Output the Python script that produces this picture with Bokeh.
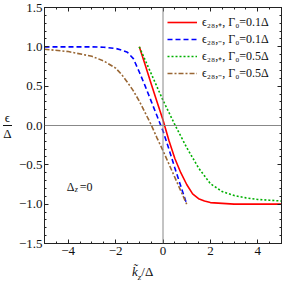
from bokeh.plotting import figure
from bokeh.layouts import column, row
from bokeh.models import (Span, Label, Legend, LegendItem, LinearAxis, Div,
                          SingleIntervalTicker, CustomJSTickFormatter)
from bokeh.embed import file_html
from bokeh.resources import INLINE

FONT = "Liberation Serif"

# ---- data ----
red_k = [-1.0, -0.75, -0.5, -0.25, 0.0, 0.25, 0.5, 0.75, 1.0, 1.25, 1.5, 1.75, 2.0, 2.5, 3.0, 4.0, 5.0]
red_e = [1.0, 0.77, 0.53, 0.30, 0.07, -0.19, -0.42, -0.60, -0.75, -0.87, -0.93, -0.96, -0.98, -0.99, -1.0, -1.0, -1.0]

blue_k = [-5.0, -4.0, -3.0, -2.5, -2.0, -1.75, -1.5, -1.25, -1.0, -0.75, -0.5, -0.25, 0.0, 0.25, 0.5, 0.75, 1.0]
blue_e = [1.0, 1.0, 1.0, 0.995, 0.98, 0.96, 0.93, 0.85, 0.68, 0.50, 0.31, 0.12, -0.07, -0.30, -0.54, -0.77, -1.0]

green_k = [-1.0, -0.5, 0.0, 0.5, 1.0, 1.5, 2.0, 2.5, 3.0, 3.5, 4.0, 4.5, 5.0]
green_e = [1.0, 0.66, 0.32, 0.01, -0.28, -0.54, -0.74, -0.84, -0.89, -0.92, -0.94, -0.95, -0.96]

brown_k = [-5.0, -4.0, -3.0, -2.5, -2.0, -1.75, -1.5, -1.25, -1.0, -0.75, -0.5, -0.25, 0.0, 0.25, 0.5, 0.75, 1.0]
brown_e = [0.97, 0.94, 0.88, 0.82, 0.73, 0.65, 0.55, 0.44, 0.31, 0.16, 0.01, -0.16, -0.32, -0.49, -0.66, -0.83, -1.0]

series_labels = ["ϵ₂₈,₊, Γ₀=0.1Δ", "ϵ₂₈,₋, Γ₀=0.1Δ", "ϵ₂₈,₊, Γ₀=0.5Δ", "ϵ₂₈,₋, Γ₀=0.5Δ"]

x_ticks = [-4, -2, 0, 2, 4]
x_tick_labels = ["−4", "−2", "0", "2", "4"]
y_ticks = [-1.5, -1.0, -0.5, 0.0, 0.5, 1.0, 1.5]
y_tick_labels = ["−1.5", "−1.0", "−0.5", "0.0", "0.5", "1.0", "1.5"]

YDIV_W = 15
XDIV_H = 20
P_W = 283 - YDIV_W
P_H = 282 - XDIV_H
TOP = 7
BOTTOM = 19
FRAME_H = P_H - TOP - BOTTOM

# ---- figure ----
p = figure(width=P_W, height=P_H, x_range=(-5, 5), y_range=(-1.5, 1.5),
           output_backend="svg", toolbar_location=None, margin=0,
           min_border_left=26, min_border_right=2, min_border_top=TOP, min_border_bottom=BOTTOM)
p.grid.visible = False
p.outline_line_color = "#222222"
p.outline_line_width = 1
p.background_fill_color = "white"
p.border_fill_color = "white"

p.xaxis.ticker = SingleIntervalTicker(interval=2, num_minor_ticks=4)
p.yaxis.ticker = SingleIntervalTicker(interval=0.5, num_minor_ticks=5)
p.xaxis.major_label_overrides = dict(zip(x_ticks, x_tick_labels))
p.yaxis.major_label_overrides = dict(zip(y_ticks, y_tick_labels))

for ax in [p.xaxis[0], p.yaxis[0]]:
    ax.major_tick_in = 4
    ax.major_tick_out = 0
    ax.minor_tick_in = 2
    ax.minor_tick_out = 0
    ax.axis_line_color = "#222222"
    ax.major_tick_line_color = "#222222"
    ax.minor_tick_line_color = "#222222"
    ax.major_label_text_font = FONT
    ax.major_label_text_font_size = "13px"
    ax.major_label_text_color = "#111111"
p.yaxis.major_label_standoff = 2
p.xaxis.major_label_standoff = 3

# mirrored ticks on top and right (no labels)
top = LinearAxis(ticker=SingleIntervalTicker(interval=2, num_minor_ticks=4),
                 formatter=CustomJSTickFormatter(code="return ''"))
right = LinearAxis(ticker=SingleIntervalTicker(interval=0.5, num_minor_ticks=5),
                   formatter=CustomJSTickFormatter(code="return ''"))
for ax in [top, right]:
    ax.major_tick_in = 4
    ax.major_tick_out = 0
    ax.minor_tick_in = 2
    ax.minor_tick_out = 0
    ax.major_label_standoff = 0
    ax.axis_line_color = "#222222"
    ax.major_tick_line_color = "#222222"
    ax.minor_tick_line_color = "#222222"
p.add_layout(top, "above")
p.add_layout(right, "right")

# zero lines
p.add_layout(Span(location=0, dimension="width", line_color="#888888", line_width=1))
p.add_layout(Span(location=0, dimension="height", line_color="#888888", line_width=1))

# ---- curves ----
r1 = p.line(red_k, red_e, line_color="#ff0000", line_width=1.6)
r2 = p.line(blue_k, blue_e, line_color="#0000ff", line_width=1.6, line_dash="5 3")
r3 = p.line(green_k, green_e, line_color="#00b000", line_width=1.6, line_dash="2 2")
r4 = p.line(brown_k, brown_e, line_color="#996633", line_width=1.6, line_dash="5 2 2 2")

legend = Legend(items=[LegendItem(label=lab, renderers=[r]) for lab, r in
                       zip(series_labels, [r1, r2, r3, r4])],
                location=(123, FRAME_H - 74), orientation="vertical")
legend.glyph_width = 30
legend.glyph_height = 14
legend.label_height = 14
legend.label_standoff = 5
legend.spacing = 0
legend.padding = 2
legend.margin = 0
legend.border_line_color = None
legend.background_fill_alpha = 0
legend.label_text_font = FONT
legend.label_text_font_size = "12px"
legend.label_text_color = "#111111"
p.add_layout(legend)

# Δz=0 annotation inside the frame
def lab(x, y, text, size="12px", style="normal", xo=0, yo=0):
    p.add_layout(Label(x=x, y=y, text=text, x_offset=xo, y_offset=yo,
                       text_font=FONT, text_font_size=size, text_font_style=style,
                       text_align="left", text_baseline="middle", text_color="#111111"))

lab(-4.06, -0.78, "Δ", "12px")
lab(-4.06, -0.78, "z", "8px", "italic", xo=8, yo=-3)
lab(-4.06, -0.78, "=0", "12px", xo=13)

# ---- axis titles as HTML text ----
frac_top = TOP + FRAME_H // 2 - 14
ydiv = Div(width=YDIV_W, height=P_H, margin=0,
           text=('<div style="font-family:\'Liberation Serif\',serif;font-size:13px;color:#111;'
                 'padding-top:%dpx;width:%dpx;text-align:center;line-height:13px">'
                 '<div style="display:inline-block;text-align:center">'
                 '<div style="border-bottom:1px solid #111;padding:0 1px 1px 1px">ϵ</div>'
                 '<div style="padding-top:1px">Δ</div></div></div>') % (frac_top, YDIV_W))
xdiv = Div(width=283, height=XDIV_H, margin=0,
           text=('<div style="font-family:\'Liberation Serif\',serif;font-size:13px;color:#111;'
                 'padding-left:132px;line-height:%dpx;white-space:nowrap">'
                 '<i>k̃</i><sub style="font-size:9px"><i>z</i></sub>/Δ</div>') % XDIV_H)

layout = column(row(ydiv, p, spacing=0), xdiv, spacing=0)

open("out.html", "w").write(file_html(layout, INLINE))
